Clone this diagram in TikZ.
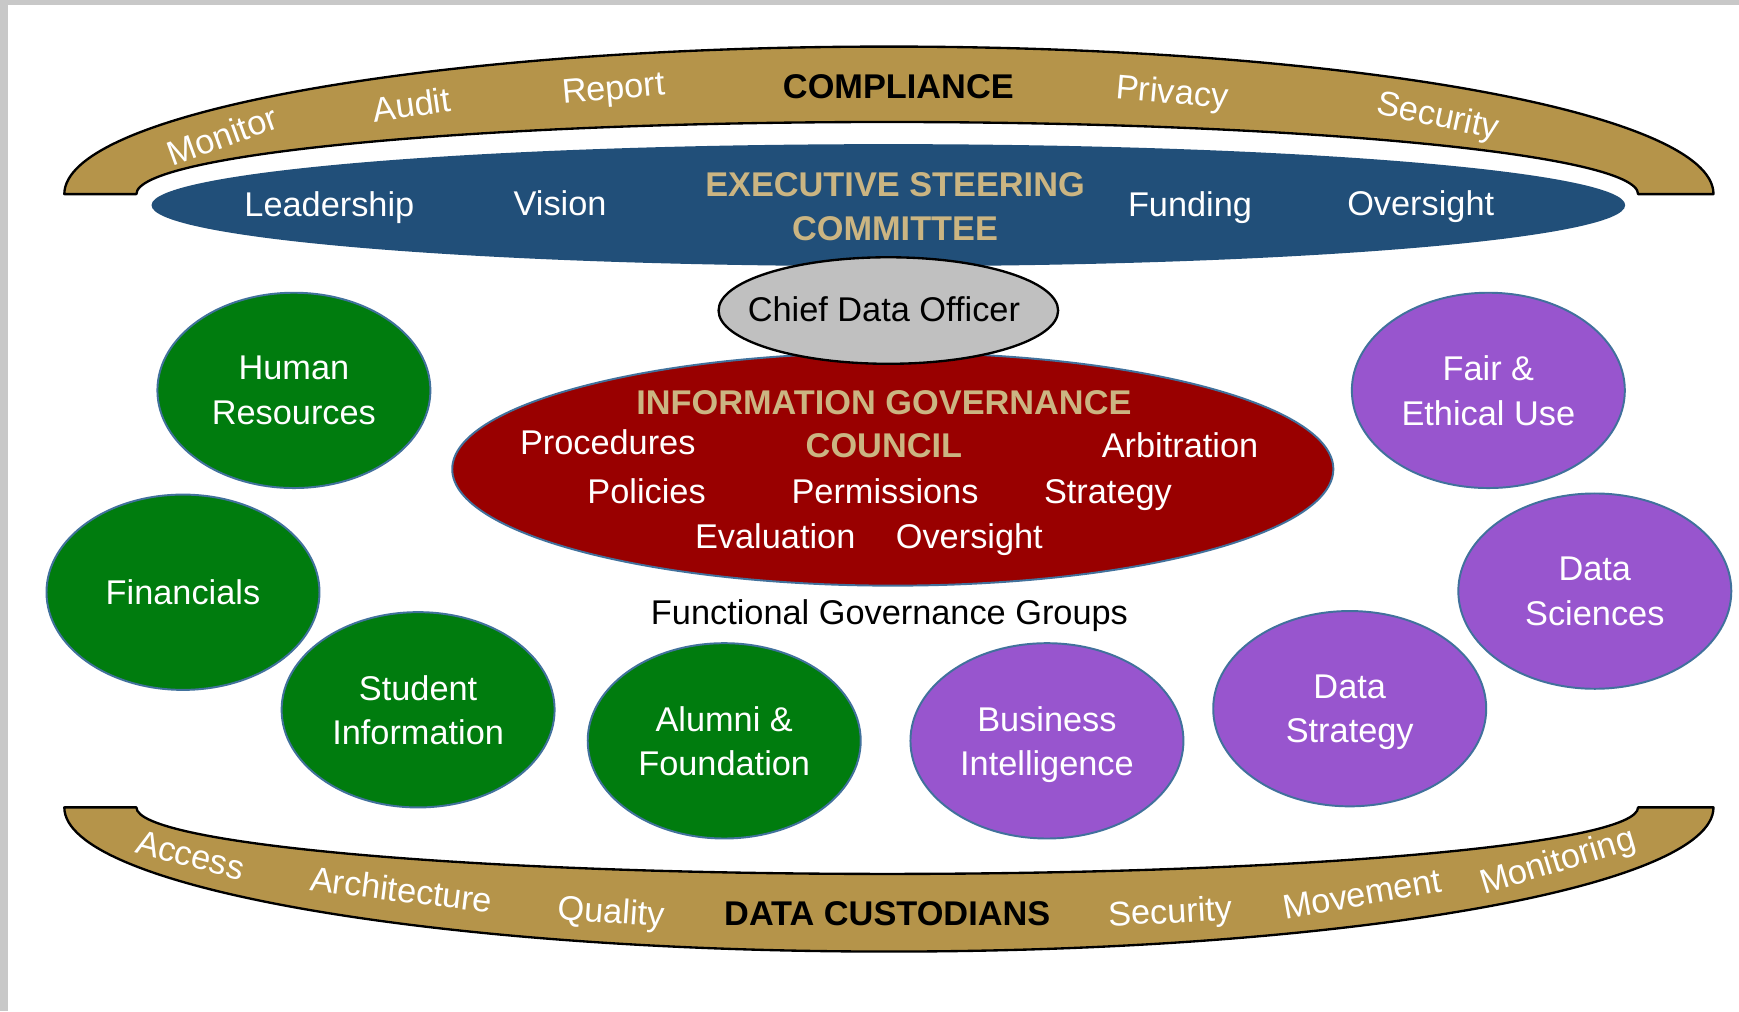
\documentclass[tikz,border=0pt]{standalone}
\usepackage{fontspec}
\setmainfont{Liberation Sans}
\usetikzlibrary{shapes.geometric}
\definecolor{framegrey}{RGB}{200,200,200}
\definecolor{bandgold}{RGB}{181,148,74}
\definecolor{steerblue}{RGB}{33,79,121}
\definecolor{titletan}{RGB}{203,181,130}
\definecolor{councilred}{RGB}{153,0,0}
\definecolor{unitgreen}{RGB}{0,124,14}
\definecolor{unitpurple}{RGB}{152,85,206}
\definecolor{rimblue}{RGB}{65,113,156}
\definecolor{cdogrey}{RGB}{192,192,192}

\begin{document}
\begin{tikzpicture}[line cap=round,line join=round,x=0.01cm,y=-0.01cm,
		font=\fontsize{8.8}{11.4}\selectfont,
		band/.style={fill=bandgold,draw=black,line width=0.6pt},
		blob/.style={ellipse,draw=rimblue,line width=0.5pt,minimum width=2.46cm,minimum height=1.76cm,text=white,align=center,inner sep=0pt,text depth=0pt},
		green blob/.style={blob,fill=unitgreen},
		purple blob/.style={blob,fill=unitpurple},
		word/.style={text=white,inner sep=0pt,text depth=0pt},
		tanword/.style={text=titletan,inner sep=0pt,text depth=0pt,font=\fontsize{8.8}{11.4}\selectfont\bfseries},
		darkword/.style={text=black,inner sep=0pt,text depth=0pt,font=\fontsize{8.8}{11.4}\selectfont\bfseries}]
	\useasboundingbox (0,0) rectangle (1568,912);
	\fill[framegrey] (0,0) rectangle (1568,912);
	\fill[white] (7,4.5) rectangle (1568,912);
	% compliance band on top
	\draw[band] (58,175) arc[start angle=180,end angle=360,x radius=743.5,y radius=133] -- (1477,175)
		arc[start angle=360,end angle=180,x radius=677,y radius=65] -- cycle;
	% custodian band below
	\draw[band] (58,728) arc[start angle=180,end angle=0,x radius=743.5,y radius=130] -- (1477,728)
		arc[start angle=0,end angle=180,x radius=677,y radius=60] -- cycle;
	\node[word,rotate=20] (monitor) at (200,122) {Monitor};
	\node[word,rotate=8] (audit) at (371,94) {Audit};
	\node[word,rotate=5] (report) at (553,79) {Report};
	\node[darkword] (compliance) at (810,78) {COMPLIANCE};
	\node[word,rotate=-5] (privacy) at (1057,82) {Privacy};
	\node[word,rotate=-12] (security) at (1297,103) {Security};
	\node[word,rotate=-15] (access) at (172,771) {Access};
	\node[word,rotate=-7] (architecture) at (362,802) {Architecture};
	\node[word,rotate=-4] (quality) at (551,821) {Quality};
	\node[darkword] (custodians) at (800,824) {DATA CUSTODIANS};
	\node[word,rotate=3] (datasecurity) at (1055,821) {Security};
	\node[word,rotate=10] (movement) at (1228,806) {Movement};
	\node[word,rotate=17] (monitoring) at (1404,775) {Monitoring};
	% steering committee
	\node[ellipse,fill=steerblue,minimum width=13.28cm,minimum height=1.1cm,inner sep=0pt] (steering) at (801,185) {};
	\node[word] (leadership) at (297,184) {Leadership};
	\node[word] (vision) at (505,183) {Vision};
	\node[tanword,align=center] (esc) at (807,186) {EXECUTIVE STEERING\\COMMITTEE};
	\node[word] (funding) at (1073,184) {Funding};
	\node[word] (oversight) at (1281,183) {Oversight};
	% council
	\node[ellipse,fill=councilred,draw=rimblue,line width=0.5pt,minimum width=7.94cm,minimum height=2.1cm,inner sep=0pt] (council) at (805,423) {};
	\node[ellipse,fill=cdogrey,draw=black,line width=0.6pt,minimum width=3.06cm,minimum height=0.96cm,inner sep=0pt] (cdo) at (801,280) {};
	\node[inner sep=0pt,text depth=0pt] (cdotext) at (797,279) {Chief Data Officer};
	\node[tanword] (igc) at (797,363) {INFORMATION GOVERNANCE};
	\node[tanword] (councilword) at (797,402) {COUNCIL};
	\node[word] (procedures) at (548,399) {Procedures};
	\node[word] (arbitration) at (1064,401) {Arbitration};
	\node[word] (policies) at (583,443) {Policies};
	\node[word] (permissions) at (798,443) {Permissions};
	\node[word] (strategy) at (999,443) {Strategy};
	\node[word] (evaluation) at (699,483) {Evaluation};
	\node[word] (councilover) at (874,483) {Oversight};
	\node[inner sep=0pt,text depth=0pt] (fgg) at (802,552) {Functional Governance Groups};
	% functional groups
	\node[green blob] (hr) at (265,352) {Human\\Resources};
	\node[green blob] (fin) at (165,534) {Financials};
	\node[green blob] (stu) at (377,640) {Student\\Information};
	\node[green blob] (alu) at (653,668) {Alumni \&\\Foundation};
	\node[purple blob] (bi) at (944,668) {Business\\Intelligence};
	\node[purple blob] (dstr) at (1217,639) {Data\\Strategy};
	\node[purple blob] (dsci) at (1438,533) {Data\\Sciences};
	\node[purple blob] (fair) at (1342,352) {Fair \&\\Ethical Use};
\end{tikzpicture}
\end{document}
